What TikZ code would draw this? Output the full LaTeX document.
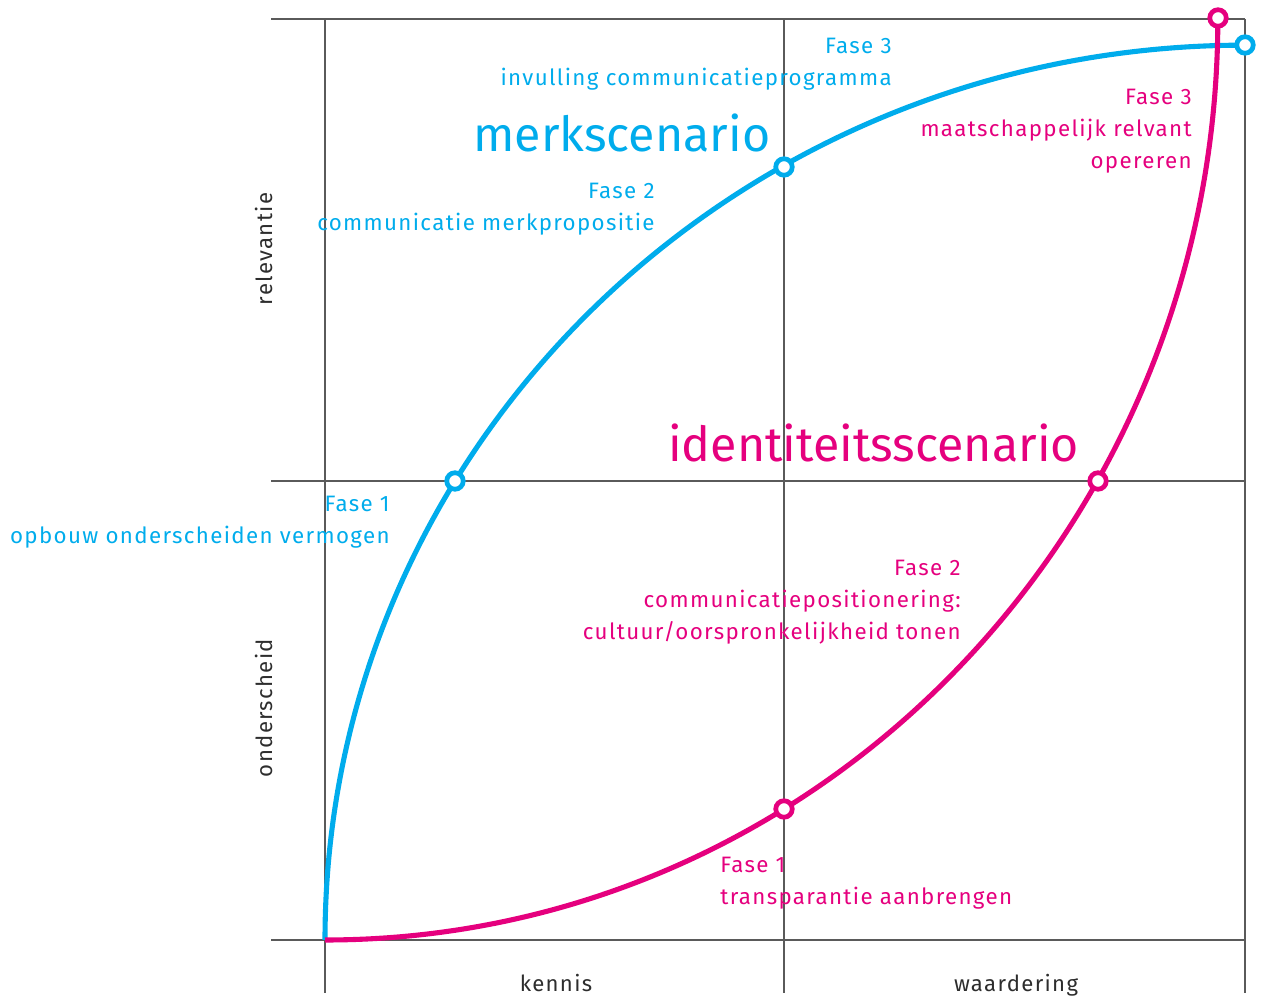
\documentclass[tikz,border=0pt]{standalone}
\usepackage{fontspec}
\setmainfont{Fira Sans}
\newfontfamily\spacedfont[LetterSpace=6]{Fira Sans}
\definecolor{merkblue}{RGB}{0,172,236}
\definecolor{idmagenta}{RGB}{229,0,126}
\definecolor{gridgray}{RGB}{90,90,90}
\definecolor{axistext}{RGB}{45,45,45}
\tikzset{
  grid line/.style={gridgray, line width=0.8pt},
  scenario/.style={line width=2.9pt},
  fase dot/.style={circle, fill=white, line width=2.7pt, minimum size=0.33cm, inner sep=0pt},
  fase label/.style={font=\spacedfont\fontsize{12.7}{18.4}\selectfont, inner sep=0pt},
  scenario label/.style={font=\fontsize{27.5}{30}\selectfont, inner sep=0pt},
  axis label/.style={font=\spacedfont\fontsize{12.6}{15}\selectfont, text=axistext, inner sep=0pt}
}

\begin{document}
\begin{tikzpicture}[x=0.02cm, y=0.02cm]
\useasboundingbox (0,0) rectangle (1263,999);

\draw[grid line] (271,980) -- (1245,980);
\draw[grid line] (271,518) -- (1245,518);
\draw[grid line] (271,59) -- (1245,59);
\foreach \x in {325,784,1245}
        \draw[grid line] (\x,980) -- (\x,6);

\coordinate (origin) at (325,59);
\draw[scenario, merkblue] (origin) arc[start angle=180, end angle=90, x radius=18.4cm, y radius=17.9cm];
\draw[scenario, idmagenta] (origin) arc[start angle=270, end angle=360, x radius=17.86cm, y radius=18.44cm];

\node[fase dot, draw=merkblue] (merk1) at (455,518) {};
\node[fase dot, draw=merkblue] (merk2) at (784,832) {};
\node[fase dot, draw=merkblue] (merk3) at (1245,954) {};
\node[fase dot, draw=idmagenta] (ident1) at (784,190) {};
\node[fase dot, draw=idmagenta] (ident2) at (1098,518) {};
\node[fase dot, draw=idmagenta] (ident3) at (1218,981) {};

\node[scenario label, merkblue, anchor=base west] (merk) at (473,847) {merkscenario};
\node[scenario label, idmagenta, anchor=base west] (ident) at (668,537) {identiteitsscenario};

% base anchor sits on the last line of each label
\node[fase label, merkblue, align=right, anchor=base east] (fase merk3) at (892,913) {Fase 3\\invulling communicatieprogramma};
\node[fase label, merkblue, align=right, anchor=base east] (fase merk2) at (655,768) {Fase 2\\communicatie merkpropositie};
\node[fase label, merkblue, align=right, anchor=base east] (fase merk1) at (390,455) {Fase 1\\opbouw onderscheiden vermogen};
\node[fase label, idmagenta, align=right, anchor=base east] (fase ident3) at (1192,830) {Fase 3\\maatschappelijk relvant\\opereren};
\node[fase label, idmagenta, align=right, anchor=base east] (fase ident2) at (961,359) {Fase 2\\communicatiepositionering:\\cultuur/oorspronkelijkheid tonen};
\node[fase label, idmagenta, align=left, anchor=base west] (fase ident1) at (720,94) {Fase 1\\transparantie aanbrengen};

\node[axis label, anchor=base] (kennis) at (556,7) {kennis};
\node[axis label, anchor=base] (waardering) at (1016,7) {waardering};
\node[axis label, rotate=90, anchor=base] (relevantie) at (272,750) {relevantie};
\node[axis label, rotate=90, anchor=base] (onderscheid) at (272,291) {onderscheid};

\end{tikzpicture}
\end{document}
